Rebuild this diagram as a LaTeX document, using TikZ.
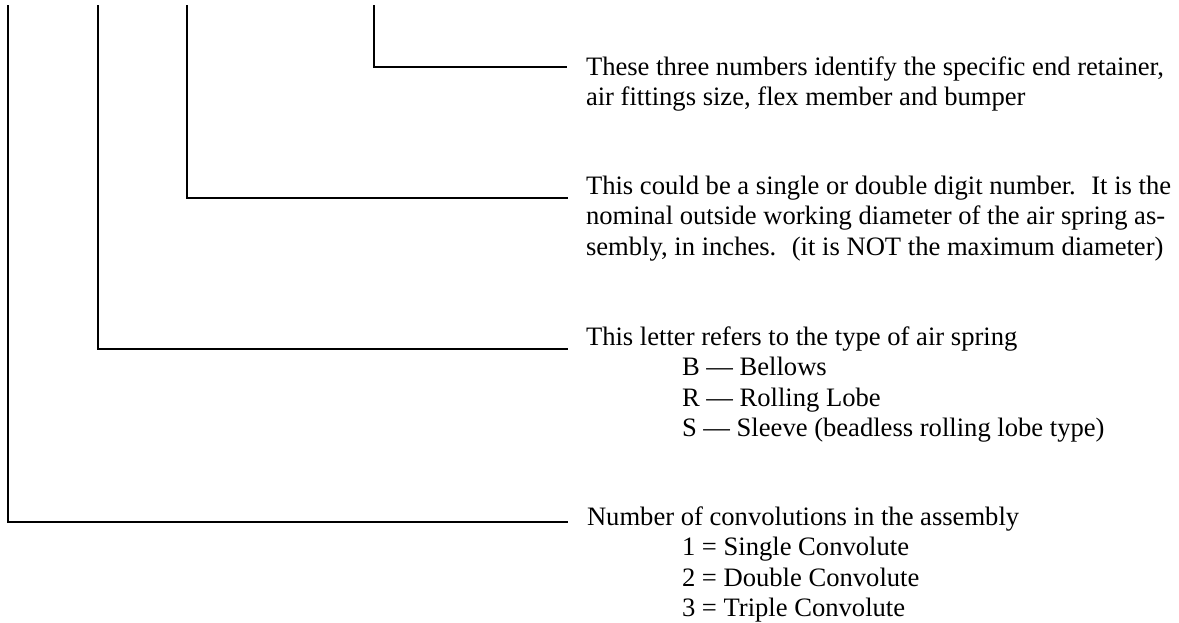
\documentclass[tikz,border=0pt]{standalone}
\usepackage{fontspec}
\setmainfont{Liberation Serif}
\begin{document}
\begin{tikzpicture}[x=1pt,y=-1pt,
  lead/.style={line width=1.5pt,line cap=rect},
  txt/.style={anchor=base west,inner sep=0pt,outer sep=0pt,font=\fontsize{26.6}{30.5}\selectfont}]
\path[use as bounding box,fill=white] (0,0) rectangle (1179,622);
% top ends of the leaders
\coordinate (v1) at (374,6);
\coordinate (v2) at (187,6);
\coordinate (v3) at (98,6);
\coordinate (v4) at (8,6);
% right ends of the leaders
\coordinate (e1) at (566,67);
\coordinate (e2) at (567,198);
\coordinate (e3) at (567,349);
\coordinate (e4) at (567,522);
% block 1
\node[txt] (a1) at (586,75) {These three numbers identify the specific end retainer,};
\node[txt] (a2) at (586,105.5) {air fittings size, flex member and bumper};
% block 2
\node[txt] (b1) at (586,194) {This could be a single or double digit number.~ It is the};
\node[txt] (b2) at (586,224.5) {nominal outside working diameter of the air spring as-};
\node[txt] (b3) at (586,255) {sembly, in inches.~ (it is NOT the maximum diameter)};
% block 3
\node[txt] (c1) at (586,345) {This letter refers to the type of air spring};
\node[txt] (c2) at (682,375.5) {B — Bellows};
\node[txt] (c3) at (682,406) {R — Rolling Lobe};
\node[txt] (c4) at (682,436.5) {S — Sleeve (beadless rolling lobe type)};
% block 4
\node[txt] (d1) at (587,525) {Number of convolutions in the assembly};
\node[txt] (d2) at (682,555.5) {1 = Single Convolute};
\node[txt] (d3) at (682,586) {2 = Double Convolute};
\node[txt] (d4) at (682,616.5) {3 = Triple Convolute};
% leaders
\draw[lead] (v1) |- (e1);
\draw[lead] (v2) |- (e2);
\draw[lead] (v3) |- (e3);
\draw[lead] (v4) |- (e4);
\end{tikzpicture}
\end{document}
